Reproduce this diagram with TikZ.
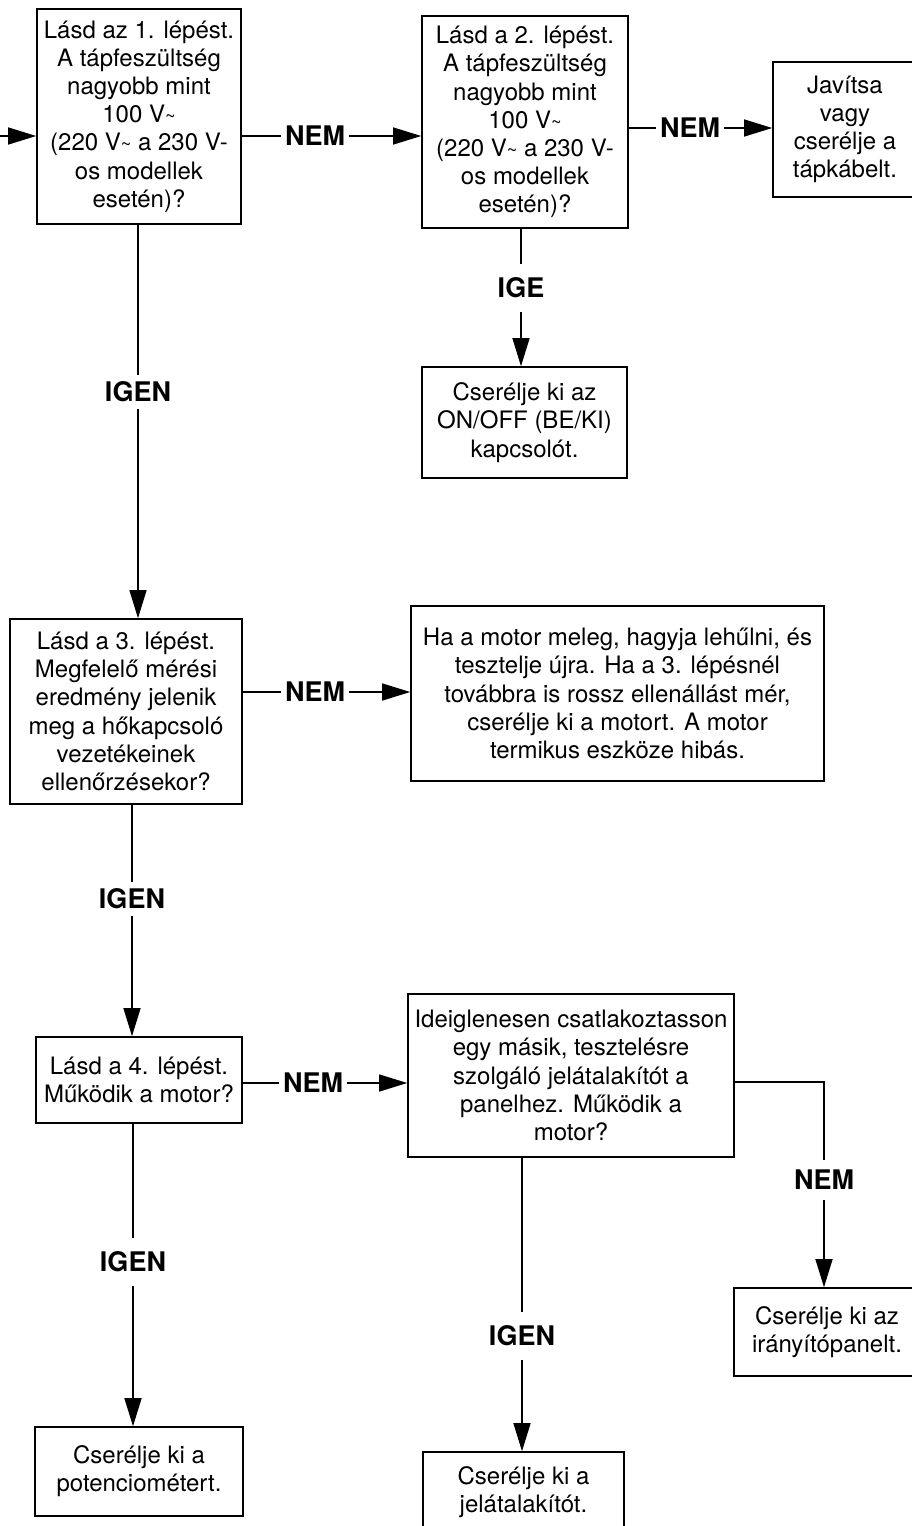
\documentclass[tikz,border=0pt]{standalone}
\usepackage{fontspec}
\setmainfont{TeX Gyre Heros}
\usetikzlibrary{arrows.meta, positioning}

\newcommand{\vac}{V{\fontsize{18}{18}\selectfont\textasciitilde}}

\begin{document}
\begin{tikzpicture}[x=1pt, y=-1pt,
    box/.style={draw, line width=1.6pt, align=center, inner sep=0pt,
        font=\fontsize{24}{28.2}\selectfont},
    lbl/.style={font=\fontsize{27}{27}\selectfont\bfseries, inner xsep=4pt, inner ysep=7pt},
    flow/.style={line width=1.3pt},
    arr/.style={flow, -{Triangle[length=28pt, width=17pt]}}]
    \useasboundingbox (0,0) rectangle (912,1526);
    \clip (0,0) rectangle (912,1526);

    \node[box, minimum width=204pt, minimum height=215pt] (step1) at (139,116.5)
        {Lásd az 1. lépést.\\A tápfeszültség\\nagyobb mint\\100 \vac\\(220 \vac{} a 230 V-\\os modellek\\esetén)?};
    \node[box, minimum width=206pt, minimum height=212pt] (step2) at (525,122)
        {Lásd a 2. lépést.\\A tápfeszültség\\nagyobb mint\\100 \vac\\(220 \vac{} a 230 V-\\os modellek\\esetén)?};
    \node[box, minimum width=144pt, minimum height=135pt] (cable) at (845,129.5)
        {Javítsa\\vagy\\cserélje a\\tápkábelt.};
    \node[box, minimum width=205pt, minimum height=111pt] (switch) at (524.5,422.5)
        {Cserélje ki az\\ON/OFF (BE/KI)\\kapcsolót.};
    \node[box, minimum width=232pt, minimum height=185pt] (step3) at (126,711.5)
        {Lásd a 3. lépést.\\Megfelelő mérési\\eredmény jelenik\\meg a hőkapcsoló\\vezetékeinek\\ellenőrzésekor?};
    \node[box, minimum width=413pt, minimum height=175pt] (motor) at (617.5,693.5)
        {Ha a motor meleg, hagyja lehűlni, és\\tesztelje újra. Ha a 3. lépésnél\\továbbra is rossz ellenállást mér,\\cserélje ki a motort. A motor\\termikus eszköze hibás.};
    \node[box, minimum width=206pt, minimum height=86pt] (step4) at (139,1080)
        {Lásd a 4. lépést.\\Működik a motor?};
    \node[box, minimum width=326pt, minimum height=163pt] (swap) at (571,1075.5)
        {Ideiglenesen csatlakoztasson\\egy másik, tesztelésre\\szolgáló jelátalakítót a\\panelhez. Működik a\\motor?};
    \node[box, minimum width=186pt, minimum height=88pt] (panel) at (827,1332)
        {Cserélje ki az\\irányítópanelt.};
    \node[box, minimum width=208pt, minimum height=89pt] (poti) at (139,1471.5)
        {Cserélje ki a\\potenciométert.};
    \node[box, minimum width=201pt, minimum height=80pt] (conv) at (523.5,1492)
        {Cserélje ki a\\jelátalakítót.};

    \node[lbl] (nem1) at (315,136) {NEM};
    \node[lbl] (nem2) at (690,128) {NEM};
    \node[lbl, inner ysep=14pt] (ige) at (521,288) {IGE};
    \node[lbl] (igen1) at (138,392) {IGEN};
    \node[lbl] (nem3) at (315,692) {NEM};
    \node[lbl] (igen2) at (132,899) {IGEN};
    \node[lbl] (nem4) at (313,1083) {NEM};
    \node[lbl, inner ysep=10pt] (nem5) at (824,1180) {NEM};
    \node[lbl, inner ysep=14pt] (igen3) at (133,1262) {IGEN};
    \node[lbl, inner ysep=14pt] (igen4) at (522,1336) {IGEN};

    \coordinate (in) at (0,136);
    \coordinate (bend) at (824,1082);

    \draw[arr] (in) -- (in -| step1.west);
    \draw[flow] (nem1.west -| step1.east) -- (nem1.west);
    \draw[arr] (nem1.east) -- (nem1.east -| step2.west);
    \draw[flow] (nem2.west -| step2.east) -- (nem2.west);
    \draw[arr] (nem2.east) -- (nem2.east -| cable.west);
    \draw[flow] (ige |- step2.south) -- (ige.north);
    \draw[arr] (ige.south) -- (ige |- switch.north);
    \draw[flow] (igen1 |- step1.south) -- (igen1.north);
    \draw[arr] (igen1.south) -- (igen1 |- step3.north);
    \draw[flow] (nem3.west -| step3.east) -- (nem3.west);
    \draw[arr] (nem3.east) -- (nem3.east -| motor.west);
    \draw[flow] (igen2 |- step3.south) -- (igen2.north);
    \draw[arr] (igen2.south) -- (igen2 |- step4.north);
    \draw[flow] (nem4.west -| step4.east) -- (nem4.west);
    \draw[arr] (nem4.east) -- (nem4.east -| swap.west);
    \draw[flow] (igen3 |- step4.south) -- (igen3.north);
    \draw[arr] (igen3.south) -- (igen3 |- poti.north);
    \draw[flow] (bend -| swap.east) -- (bend) -- (bend |- nem5.north);
    \draw[arr] (bend |- nem5.south) -- (bend |- panel.north);
    \draw[flow] (igen4 |- swap.south) -- (igen4.north);
    \draw[arr] (igen4.south) -- (igen4 |- conv.north);
\end{tikzpicture}
\end{document}
